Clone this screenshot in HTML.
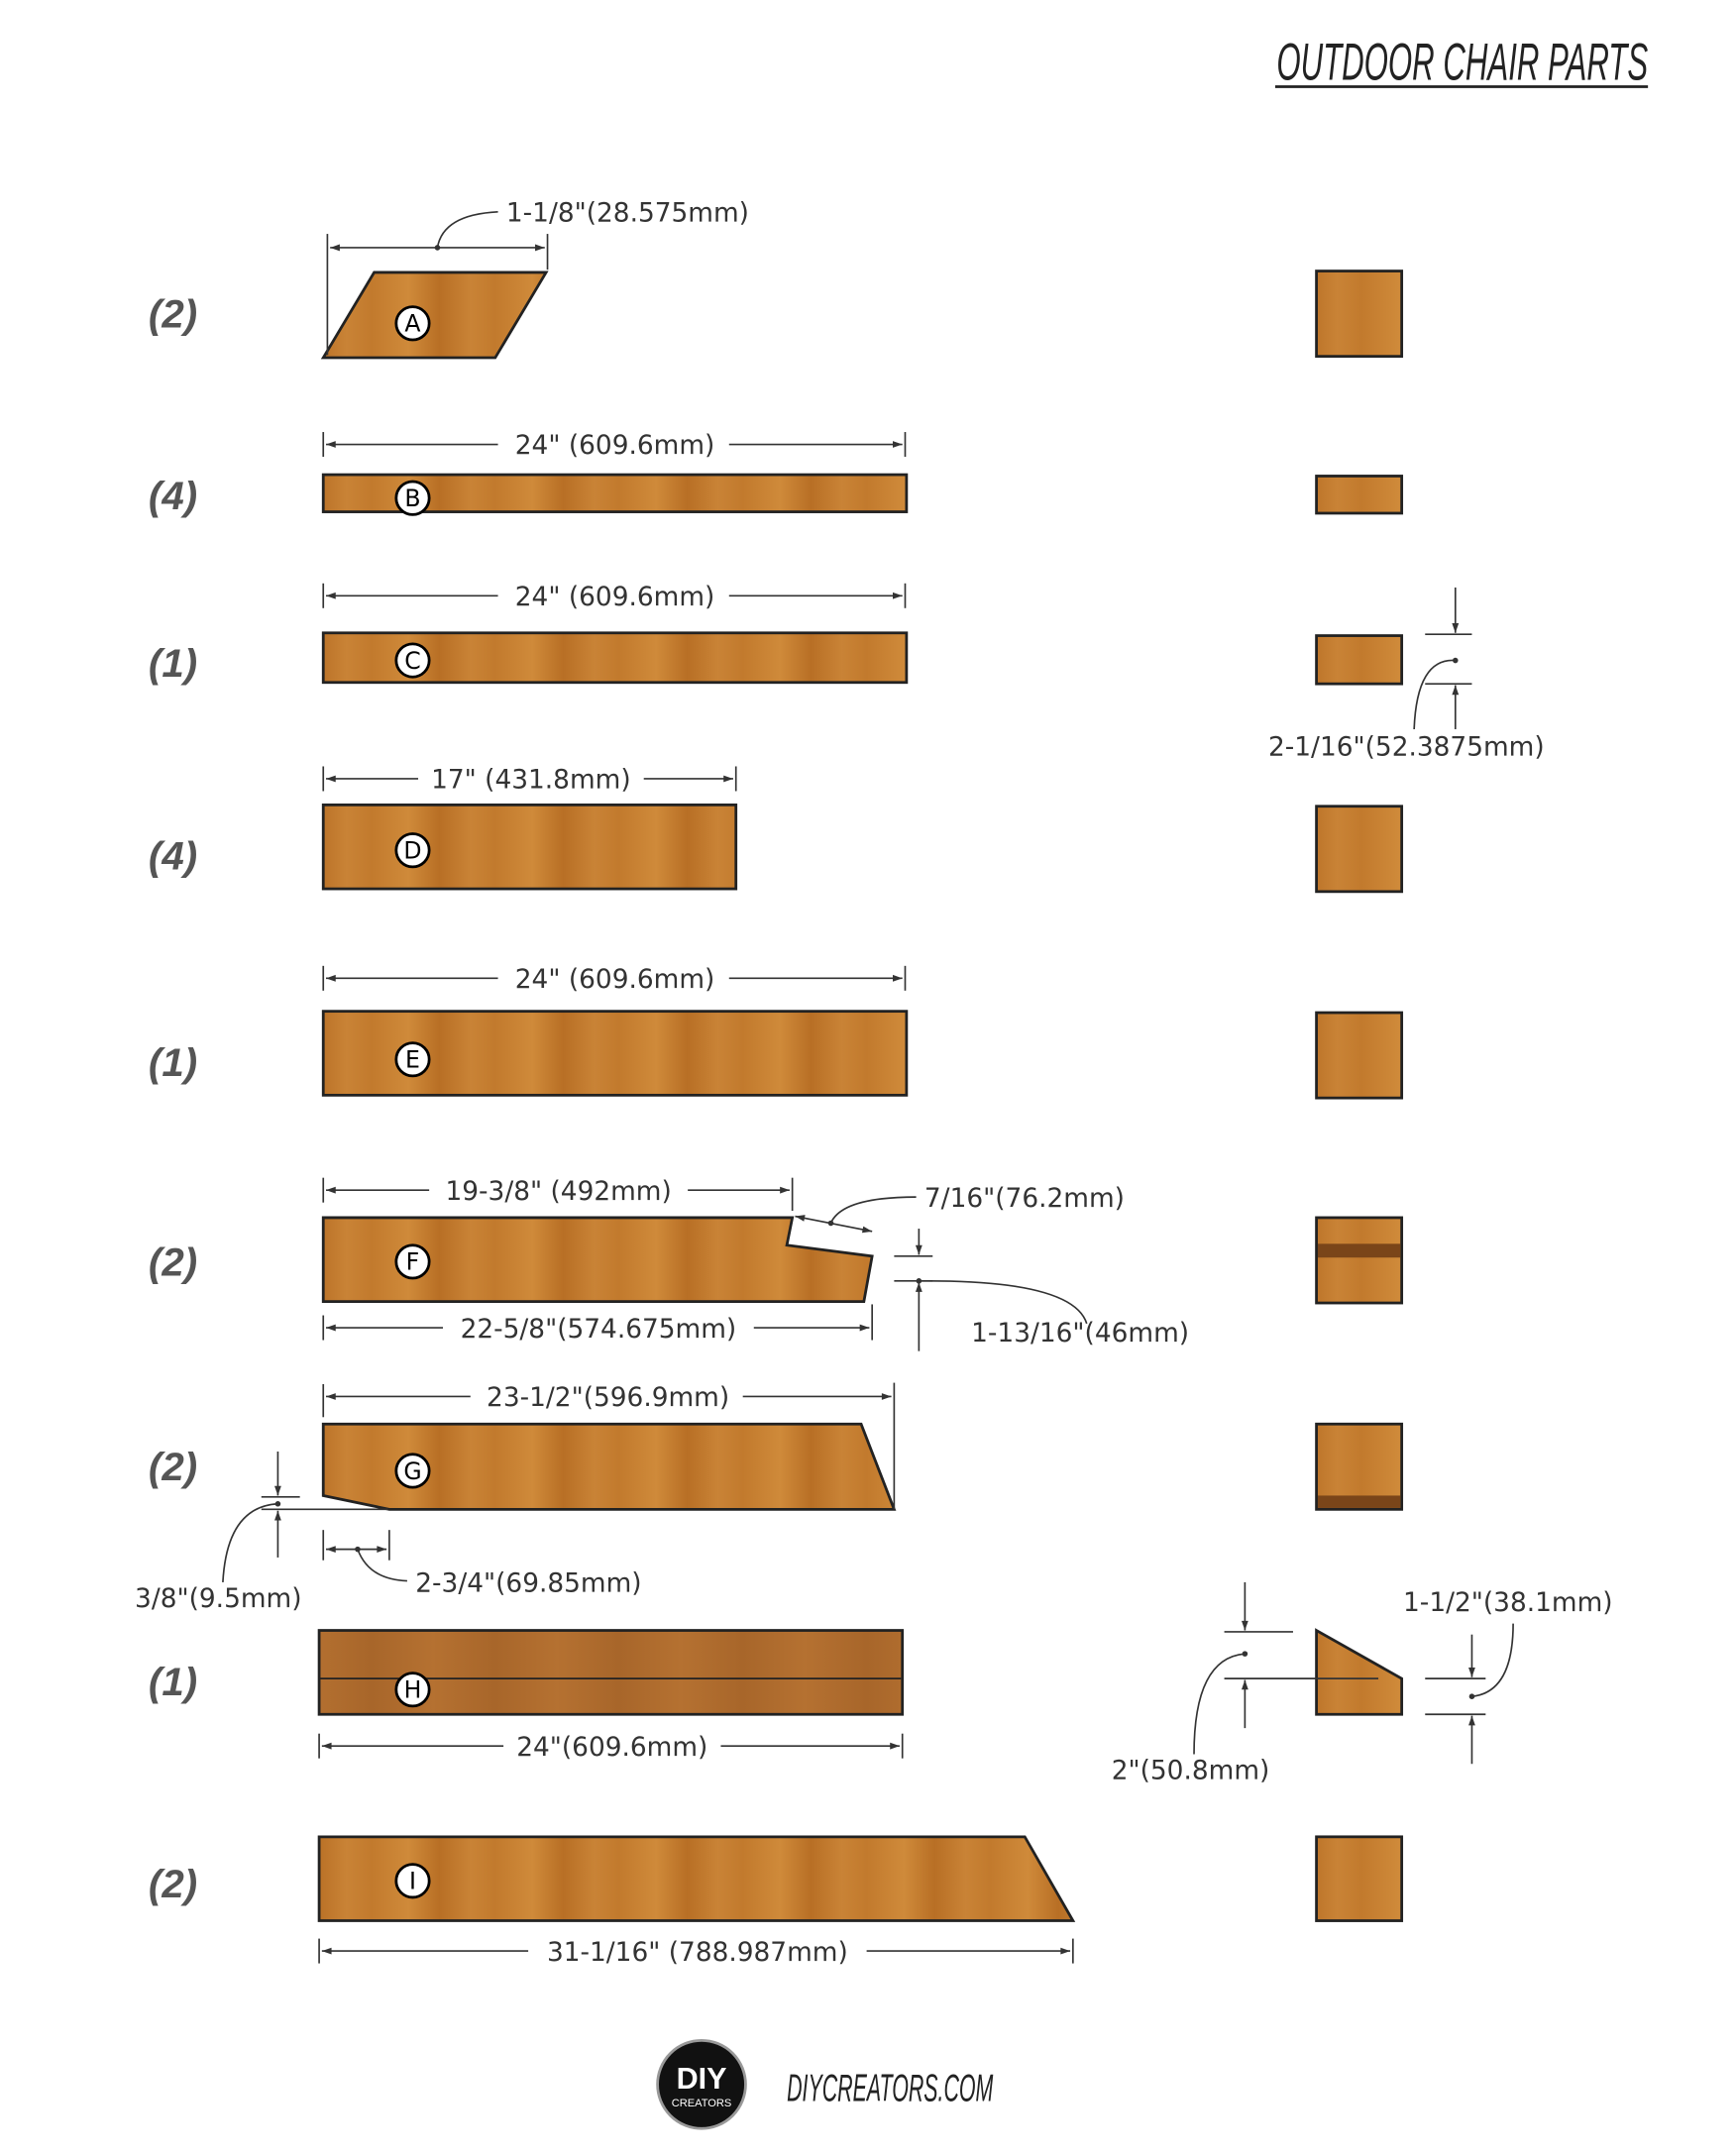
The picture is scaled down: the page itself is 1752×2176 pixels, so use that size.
<!DOCTYPE html>
<html><head><meta charset="utf-8"><style>
html,body{margin:0;padding:0;background:#fff}
svg{display:block}
text{font-family:"DejaVu Sans","Liberation Sans",sans-serif;fill:#333}
.cnt{font-family:"Liberation Sans",sans-serif;font-weight:bold;font-style:italic;font-size:29px;fill:#555}
.dim{font-size:19px;fill:#333}
.ln{stroke:#333;stroke-width:1.2;fill:none}
.wood{fill:url(#wd);stroke:#222;stroke-width:2}
.lbl{font-size:17px;text-anchor:middle;fill:#000}
</style></head><body>
<svg width="1752" height="2176" viewBox="0 0 1262 1567" preserveAspectRatio="none" xmlns="http://www.w3.org/2000/svg">
<defs>
<linearGradient id="wd" gradientUnits="userSpaceOnUse" x1="0" y1="0" x2="90" y2="0" spreadMethod="repeat">
<stop offset="0" stop-color="#c27a2d"/><stop offset="0.3" stop-color="#cf8a3a"/><stop offset="0.55" stop-color="#b86f25"/><stop offset="0.8" stop-color="#c98336"/><stop offset="1" stop-color="#c27a2d"/>
</linearGradient>
<linearGradient id="wd2" gradientUnits="userSpaceOnUse" x1="0" y1="0" x2="90" y2="0" spreadMethod="repeat">
<stop offset="0" stop-color="#a8662a"/><stop offset="0.5" stop-color="#b57131"/><stop offset="1" stop-color="#a8662a"/>
</linearGradient>
<marker id="ar" viewBox="0 0 10 10" refX="10" refY="5" markerWidth="10" markerHeight="7" orient="auto-start-reverse" markerUnits="userSpaceOnUse"><path d="M0,1.5 L10,5 L0,8.5 z" fill="#333"/></marker>
</defs>

<text x="928" y="58" style="font-family:'Liberation Sans Narrow','Liberation Sans',sans-serif;font-style:italic;font-size:38px;fill:#222;" textLength="270" lengthAdjust="spacingAndGlyphs">OUTDOOR CHAIR PARTS</text>
<line x1="927" y1="63" x2="1198" y2="63" stroke="#222" stroke-width="2"/>

<text class="cnt" x="108" y="238">(2)</text>
<text class="cnt" x="108" y="370">(4)</text>
<text class="cnt" x="108" y="492">(1)</text>
<text class="cnt" x="108" y="632">(4)</text>
<text class="cnt" x="108" y="782">(1)</text>
<text class="cnt" x="108" y="927">(2)</text>
<text class="cnt" x="108" y="1076">(2)</text>
<text class="cnt" x="108" y="1232">(1)</text>
<text class="cnt" x="108" y="1379">(2)</text>

<polygon class="wood" points="235,260 272,198 397,198 360,260"/>
<line class="ln" x1="238" y1="170" x2="238" y2="258"/><line class="ln" x1="398" y1="170" x2="398" y2="196"/>
<line class="ln" x1="240" y1="180" x2="396" y2="180" marker-start="url(#ar)" marker-end="url(#ar)"/>
<path class="ln" d="M318,180 Q322,156 362,154"/><circle cx="318" cy="180" r="2" fill="#333"/>
<text class="dim" x="368" y="161">1-1/8"(28.575mm)</text>
<rect class="wood" x="957" y="197" width="62" height="62"/>

<rect class="wood" x="235" y="345" width="424" height="27"/>
<line class="ln" x1="235" y1="314" x2="235" y2="332"/><line class="ln" x1="658" y1="314" x2="658" y2="332"/>
<line class="ln" x1="237" y1="323" x2="362" y2="323" marker-start="url(#ar)"/><line class="ln" x1="530" y1="323" x2="656" y2="323" marker-end="url(#ar)"/>
<text class="dim" x="447" y="330" text-anchor="middle">24" (609.6mm)</text>
<rect class="wood" x="957" y="346" width="62" height="27"/>

<rect class="wood" x="235" y="460" width="424" height="36"/>
<line class="ln" x1="235" y1="424" x2="235" y2="442"/><line class="ln" x1="658" y1="424" x2="658" y2="442"/>
<line class="ln" x1="237" y1="433" x2="362" y2="433" marker-start="url(#ar)"/><line class="ln" x1="530" y1="433" x2="656" y2="433" marker-end="url(#ar)"/>
<text class="dim" x="447" y="440" text-anchor="middle">24" (609.6mm)</text>
<rect class="wood" x="957" y="462" width="62" height="35"/>
<line class="ln" x1="1036" y1="461" x2="1070" y2="461"/><line class="ln" x1="1036" y1="497" x2="1070" y2="497"/>
<line class="ln" x1="1058" y1="427" x2="1058" y2="460" marker-end="url(#ar)"/><line class="ln" x1="1058" y1="530" x2="1058" y2="498" marker-end="url(#ar)"/>
<path class="ln" d="M1058,480 Q1030,478 1028,530"/><circle cx="1058" cy="480" r="2" fill="#333"/>
<text class="dim" x="922" y="549">2-1/16"(52.3875mm)</text>

<rect class="wood" x="235" y="585" width="300" height="61"/>
<line class="ln" x1="235" y1="557" x2="235" y2="575"/><line class="ln" x1="535" y1="557" x2="535" y2="575"/>
<line class="ln" x1="237" y1="566" x2="304" y2="566" marker-start="url(#ar)"/><line class="ln" x1="468" y1="566" x2="533" y2="566" marker-end="url(#ar)"/>
<text class="dim" x="386" y="573" text-anchor="middle">17" (431.8mm)</text>
<rect class="wood" x="957" y="586" width="62" height="62"/>

<rect class="wood" x="235" y="735" width="424" height="61"/>
<line class="ln" x1="235" y1="702" x2="235" y2="720"/><line class="ln" x1="658" y1="702" x2="658" y2="720"/>
<line class="ln" x1="237" y1="711" x2="362" y2="711" marker-start="url(#ar)"/><line class="ln" x1="530" y1="711" x2="656" y2="711" marker-end="url(#ar)"/>
<text class="dim" x="447" y="718" text-anchor="middle">24" (609.6mm)</text>
<rect class="wood" x="957" y="736" width="62" height="62"/>

<polygon class="wood" points="235,885 576,885 572,905 634,913 628,946 235,946"/>
<line class="ln" x1="235" y1="856" x2="235" y2="874"/><line class="ln" x1="576" y1="856" x2="576" y2="880"/>
<line class="ln" x1="237" y1="865" x2="312" y2="865" marker-start="url(#ar)"/><line class="ln" x1="500" y1="865" x2="574" y2="865" marker-end="url(#ar)"/>
<text class="dim" x="406" y="872" text-anchor="middle">19-3/8" (492mm)</text>
<line class="ln" x1="578" y1="884" x2="634" y2="895" marker-start="url(#ar)" marker-end="url(#ar)"/>
<path class="ln" d="M604,889 Q612,870 666,870"/><circle cx="604" cy="889" r="2" fill="#333"/>
<text class="dim" x="672" y="877">7/16"(76.2mm)</text>
<line class="ln" x1="235" y1="956" x2="235" y2="974"/><line class="ln" x1="634" y1="948" x2="634" y2="974"/>
<line class="ln" x1="237" y1="965" x2="322" y2="965" marker-start="url(#ar)"/><line class="ln" x1="548" y1="965" x2="632" y2="965" marker-end="url(#ar)"/>
<text class="dim" x="435" y="972" text-anchor="middle">22-5/8"(574.675mm)</text>
<line class="ln" x1="650" y1="913" x2="678" y2="913"/><line class="ln" x1="650" y1="931" x2="678" y2="931"/>
<line class="ln" x1="668" y1="893" x2="668" y2="912" marker-end="url(#ar)"/><line class="ln" x1="668" y1="982" x2="668" y2="932" marker-end="url(#ar)"/>
<path class="ln" d="M668,931 Q780,930 790,962"/><circle cx="668" cy="931" r="2" fill="#333"/>
<text class="dim" x="706" y="975">1-13/16"(46mm)</text>
<rect class="wood" x="957" y="885" width="62" height="62"/>
<rect x="958" y="904" width="60" height="10" fill="#7a4519"/>

<polygon class="wood" points="235,1035 626,1035 650,1097 283,1097 235,1087"/>
<line class="ln" x1="235" y1="1006" x2="235" y2="1030"/><line class="ln" x1="650" y1="1005" x2="650" y2="1097"/>
<line class="ln" x1="237" y1="1015" x2="342" y2="1015" marker-start="url(#ar)"/><line class="ln" x1="540" y1="1015" x2="648" y2="1015" marker-end="url(#ar)"/>
<text class="dim" x="442" y="1022" text-anchor="middle">23-1/2"(596.9mm)</text>
<line class="ln" x1="190" y1="1088" x2="218" y2="1088"/><line class="ln" x1="190" y1="1097" x2="282" y2="1097"/>
<line class="ln" x1="202" y1="1055" x2="202" y2="1087" marker-end="url(#ar)"/><line class="ln" x1="202" y1="1132" x2="202" y2="1098" marker-end="url(#ar)"/>
<path class="ln" d="M202,1093 Q165,1095 162,1150"/><circle cx="202" cy="1093" r="2" fill="#333"/>
<text class="dim" x="98" y="1168">3/8"(9.5mm)</text>
<line class="ln" x1="235" y1="1112" x2="235" y2="1134"/><line class="ln" x1="283" y1="1112" x2="283" y2="1134"/>
<line class="ln" x1="237" y1="1126" x2="281" y2="1126" marker-start="url(#ar)" marker-end="url(#ar)"/>
<path class="ln" d="M260,1126 Q268,1148 296,1149"/><circle cx="260" cy="1126" r="2" fill="#333"/>
<text class="dim" x="302" y="1157">2-3/4"(69.85mm)</text>
<rect class="wood" x="957" y="1035" width="62" height="62"/>
<rect x="958" y="1087" width="60" height="9" fill="#7a4519"/>

<rect x="232" y="1185" width="424" height="61" fill="url(#wd2)" stroke="#222" stroke-width="2"/>
<line x1="233" y1="1220" x2="655" y2="1220" stroke="#222" stroke-width="1.2"/>
<line class="ln" x1="232" y1="1260" x2="232" y2="1278"/><line class="ln" x1="656" y1="1260" x2="656" y2="1278"/>
<line class="ln" x1="234" y1="1269" x2="366" y2="1269" marker-start="url(#ar)"/><line class="ln" x1="524" y1="1269" x2="654" y2="1269" marker-end="url(#ar)"/>
<text class="dim" x="445" y="1276" text-anchor="middle">24"(609.6mm)</text>
<polygon class="wood" points="957,1185 1019,1220 1019,1246 957,1246"/>
<line class="ln" x1="890" y1="1186" x2="940" y2="1186"/><line class="ln" x1="890" y1="1220" x2="1002" y2="1220"/>
<line class="ln" x1="905" y1="1150" x2="905" y2="1185" marker-end="url(#ar)"/><line class="ln" x1="905" y1="1256" x2="905" y2="1221" marker-end="url(#ar)"/>
<path class="ln" d="M905,1202 Q868,1205 868,1275"/><circle cx="905" cy="1202" r="2" fill="#333"/>
<text class="dim" x="808" y="1293">2"(50.8mm)</text>
<line class="ln" x1="1036" y1="1220" x2="1080" y2="1220"/><line class="ln" x1="1036" y1="1246" x2="1080" y2="1246"/>
<line class="ln" x1="1070" y1="1188" x2="1070" y2="1219" marker-end="url(#ar)"/><line class="ln" x1="1070" y1="1282" x2="1070" y2="1247" marker-end="url(#ar)"/>
<path class="ln" d="M1070,1233 Q1100,1230 1100,1180"/><circle cx="1070" cy="1233" r="2" fill="#333"/>
<text class="dim" x="1020" y="1171">1-1/2"(38.1mm)</text>

<polygon class="wood" points="232,1335 745,1335 780,1396 232,1396"/>
<line class="ln" x1="232" y1="1409" x2="232" y2="1427"/><line class="ln" x1="780" y1="1409" x2="780" y2="1427"/>
<line class="ln" x1="234" y1="1418" x2="384" y2="1418" marker-start="url(#ar)"/><line class="ln" x1="630" y1="1418" x2="778" y2="1418" marker-end="url(#ar)"/>
<text class="dim" x="507" y="1425" text-anchor="middle">31-1/16" (788.987mm)</text>
<rect class="wood" x="957" y="1335" width="62" height="61"/>

<g fill="#fff" stroke="#000" stroke-width="2">
<circle cx="300" cy="235" r="12"/><circle cx="300" cy="362" r="12"/><circle cx="300" cy="480" r="12"/><circle cx="300" cy="618" r="12"/><circle cx="300" cy="770" r="12"/><circle cx="300" cy="917" r="12"/><circle cx="300" cy="1069" r="12"/><circle cx="300" cy="1228" r="12"/><circle cx="300" cy="1367" r="12"/>
</g>
<text class="lbl" x="300" y="241">A</text><text class="lbl" x="300" y="368">B</text><text class="lbl" x="300" y="486">C</text><text class="lbl" x="300" y="624">D</text><text class="lbl" x="300" y="776">E</text><text class="lbl" x="300" y="923">F</text><text class="lbl" x="300" y="1075">G</text><text class="lbl" x="300" y="1234">H</text><text class="lbl" x="300" y="1373">I</text>

<circle cx="510" cy="1515" r="32" fill="#111" stroke="#999" stroke-width="2"/>
<text x="510" y="1518" text-anchor="middle" style="font-family:'Liberation Sans',sans-serif;font-weight:bold;font-size:22px;fill:#fff">DIY</text>
<text x="510" y="1531" text-anchor="middle" style="font-family:'Liberation Sans',sans-serif;font-size:8px;fill:#fff">CREATORS</text>
<text x="572" y="1527" style="font-family:'Liberation Sans Narrow','Liberation Sans',sans-serif;font-style:italic;font-size:28px;fill:#222" textLength="150" lengthAdjust="spacingAndGlyphs">DIYCREATORS.COM</text>
</svg>
</body></html>
